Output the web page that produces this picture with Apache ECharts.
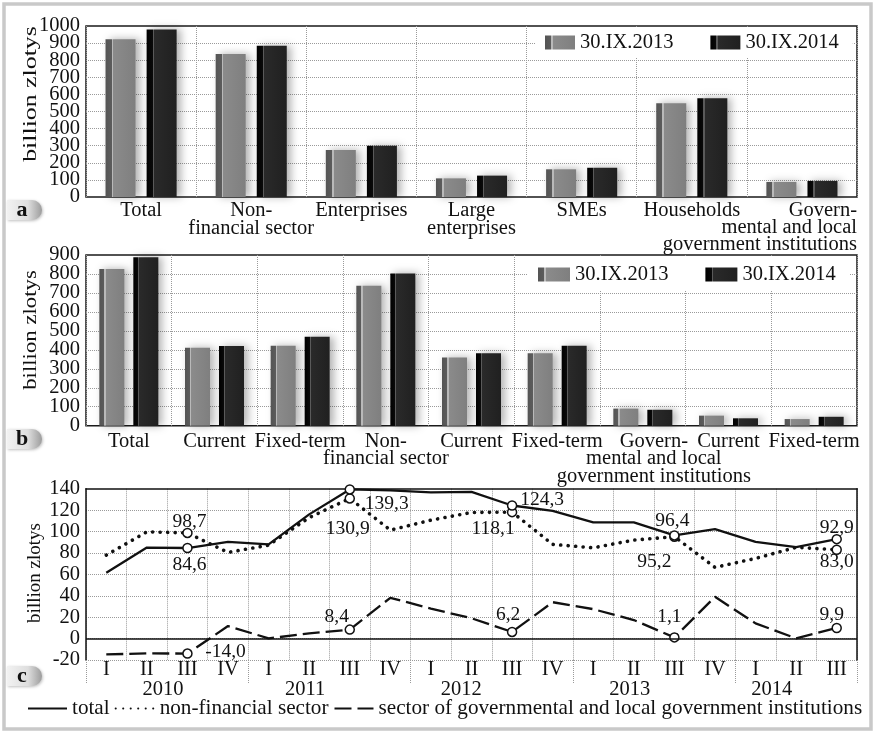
<!DOCTYPE html>
<html>
<head>
<meta charset="utf-8">
<script src="https://cdn.jsdelivr.net/npm/echarts@6/dist/echarts.min.js"></script>
<style>
  html, body { margin: 0; padding: 0; background: #fff; }
  #chart { width: 875px; height: 734px; }
</style>
</head>
<body>
<div id="chart"></div>
<script>
// ---- a: loans by sector, billion zlotys ----
const loanCategories = ['Total', 'Non-\nfinancial sector', 'Enterprises', 'Large\nenterprises', 'SMEs', 'Households', 'Govern-\nmental and local\ngovernment institutions'];
const loans2013 = [922, 836, 275, 109, 162, 548, 88];
const loans2014 = [980, 885, 300, 125, 171, 577, 94];
const loanTicks = [0, 100, 200, 300, 400, 500, 600, 700, 800, 900, 1000];

// ---- b: deposits, billion zlotys ----
const depositCategories = ['Total', 'Current', 'Fixed-term', 'Non-\nfinancial sector', 'Current', 'Fixed-term', 'Govern-\nmental and local\ngovernment institutions', 'Current', 'Fixed-term'];
const deposits2013 = [826, 411, 422, 738, 359, 382, 90, 53, 35];
const deposits2014 = [888, 420, 469, 803, 382, 422, 84, 39, 47];
const depositTicks = [0, 100, 200, 300, 400, 500, 600, 700, 800, 900];

const dateNames = ['30.IX.2013', '30.IX.2014'];

// ---- c: loan-deposit gap by quarter, billion zlotys ----
const quarters = ['I', 'II', 'III', 'IV', 'I', 'II', 'III', 'IV', 'I', 'II', 'III', 'IV', 'I', 'II', 'III', 'IV', 'I', 'II', 'III'];
const years = ['2010', '2011', '2012', '2013', '2014'];
const yearLabelAt = [1.4, 4.9, 8.75, 12.9, 16.4];
const gapTotal = [61.4, 85, 84.6, 90.4, 88, 116, 139.3, 138.5, 136.5, 137, 124.3, 119.3, 108.5, 108.5, 96.4, 102.2, 90.4, 85.4, 92.9];
const gapNonFinancial = [78, 99.7, 98.7, 80.5, 87.3, 113, 130.9, 101.3, 110.6, 117.8, 118.1, 88, 84.8, 92, 95.2, 66.5, 74.9, 85.2, 83.0];
const gapGovernment = [-14.8, -13.8, -14.0, 11.7, 0.2, 4.8, 8.4, 38.1, 28, 19, 6.2, 34, 27.5, 17.3, 1.1, 39, 14.2, 0.2, 9.9];
const lineNames = ['total', 'non-financial sector', 'sector of governmental and local government institutions'];

// quarters whose values are annotated (III quarter of each year)
const markedIdx = [2, 6, 10, 14, 18];

const SERIF = '"Liberation Serif", "Times New Roman", serif';
const INK = '#111';
const GRID_DOT = { type: 'dotted', color: '#9a9a9a', width: 1 };

// label offsets (dx, dy from the marker centre) for the annotated points
const labelOffsets = {
  total: [[2, 17], [37, 14], [30, -6], [-2, -15], [0, -11]],
  nonfin: [[2, -11], [-2, 30], [-19, 17], [-20, 25], [0, 12]],
  gov: [[38, -2], [-13, -13], [-4, -17], [-5, -21], [-5, -13]]
};

const fmtComma = v => Number(v).toFixed(1).replace('.', ',');

function lineData(values, offsets) {
  return values.map((v, i) => {
    const k = markedIdx.indexOf(i);
    if (k < 0) return v;
    return {
      value: v,
      symbol: 'circle',
      symbolSize: 9,
      label: {
        show: true, position: 'inside', offset: offsets[k],
        formatter: p => fmtComma(p.value),
        color: INK, fontFamily: SERIF, fontSize: 19.5
      }
    };
  });
}

// bar fills: dark stripe, thin highlight, body
const fill2013 = {
  type: 'linear', x: 0, y: 0, x2: 1, y2: 0,
  colorStops: [
    { offset: 0, color: '#545454' }, { offset: 0.2, color: '#5c5c5c' },
    { offset: 0.2, color: '#b9b9b9' }, { offset: 0.26, color: '#b9b9b9' },
    { offset: 0.26, color: '#8b8b8b' }, { offset: 1, color: '#7f7f7f' }
  ]
};
const fill2014 = {
  type: 'linear', x: 0, y: 0, x2: 1, y2: 0,
  colorStops: [
    { offset: 0, color: '#000' }, { offset: 0.2, color: '#0a0a0a' },
    { offset: 0.2, color: '#5a5a5a' }, { offset: 0.24, color: '#5a5a5a' },
    { offset: 0.24, color: '#2a2a2a' }, { offset: 1, color: '#202020' }
  ]
};
const barShadow = { shadowColor: 'rgba(0,0,0,0.3)', shadowBlur: 8, shadowOffsetX: 4 };

function categoryItems(cats, shiftFor) {
  return cats.map((c, i) => shiftFor[i] ? { value: c, textStyle: { padding: shiftFor[i] } } : c);
}

const catLabel = (extra) => Object.assign({
  interval: 0, hideOverlap: false, color: INK, fontFamily: SERIF, fontSize: 20.5, lineHeight: 18,
  rich: { r: { align: 'right', fontFamily: SERIF, fontSize: 20.5, lineHeight: 17, color: INK } }
}, extra);

const valueLabel = {
  color: INK, fontFamily: SERIF, fontSize: 20.5, margin: 6,
  showMinLabel: true, showMaxLabel: true, hideOverlap: false,
  formatter: v => String(v)
};

// the tick numbers are closer together than their font height, so the
// even and odd ones go on two overlaid axes sharing one scale
const evenOf = arr => arr.filter((_, i) => i % 2 === 0);
const oddOf = arr => arr.filter((_, i) => i % 2 === 1);

function barValueAxes(gridIndex, ticks) {
  const min = ticks[0], max = ticks[ticks.length - 1], interval = ticks[1] - ticks[0];
  return [
    {
      gridIndex, type: 'value', min, max, interval,
      axisLine: { show: false }, axisTick: { show: false },
      axisLabel: Object.assign({ customValues: evenOf(ticks) }, valueLabel),
      splitLine: { show: true, showMinLine: false, showMaxLine: false, lineStyle: GRID_DOT }
    },
    {
      gridIndex, type: 'value', min, max, interval, position: 'left', offset: 0,
      axisLine: { show: false }, axisTick: { show: false },
      axisLabel: Object.assign({ customValues: oddOf(ticks) }, valueLabel),
      splitLine: { show: false }
    }
  ];
}

const gridBase = { left: 86, right: 18, outerBoundsMode: 'none', containLabel: false };
const grids = [
  Object.assign({ top: 26, height: 171, show: true, borderColor: '#1a1a1a', borderWidth: 1.5, backgroundColor: 'transparent' }, gridBase),
  Object.assign({ top: 255, height: 170.7, show: true, borderColor: '#1a1a1a', borderWidth: 1.5, backgroundColor: 'transparent' }, gridBase),
  Object.assign({ top: 488.7, height: 171.3 }, gridBase)
];

const option = {
  animation: false,
  backgroundColor: '#fff',
  grid: grids,
  legend: [
    {
      data: dateNames, left: 535, top: 27, padding: [5, 14, 5, 10], backgroundColor: '#fff',
      icon: 'rect', itemWidth: 30, itemHeight: 14, itemGap: 37,
      textStyle: { color: INK, fontFamily: SERIF, fontSize: 20.5 }, z: 5
    },
    {
      data: dateNames, left: 528, top: 256, padding: [8, 14, 6, 10], backgroundColor: '#fff',
      icon: 'rect', itemWidth: 32, itemHeight: 14, itemGap: 37,
      textStyle: { color: INK, fontFamily: SERIF, fontSize: 20.5 }, z: 5
    },
    {
      data: lineNames, left: 27, top: 698, padding: 0,
      itemWidth: 39, itemHeight: 14, itemGap: 5,
      itemStyle: { opacity: 0 },
      textStyle: { color: INK, fontFamily: SERIF, fontSize: 21.2 }
    }
  ],
  xAxis: [
    {
      gridIndex: 0, type: 'category',
      data: categoryItems(loanCategories, { 6: [0, 84, 0, 0] }),
      axisLine: { show: false }, axisTick: { show: false },
      axisLabel: catLabel({
        margin: 5,
        formatter: (v, i) => i === 6 ? v.split('\n').map(s => '{r|' + s + '}').join('\n') : v
      }),
      splitLine: { show: true, lineStyle: GRID_DOT }
    },
    {
      gridIndex: 1, type: 'category',
      data: categoryItems(depositCategories, { 6: [0, 0, 0, 22] }),
      axisLine: { show: false }, axisTick: { show: false },
      axisLabel: catLabel({ margin: 7, lineHeight: 17.5 }),
      splitLine: { show: true, lineStyle: GRID_DOT }
    },
    {
      gridIndex: 2, type: 'category', data: quarters, position: 'bottom',
      axisLine: { show: false, onZero: false },
      axisTick: { show: true, interval: i => i % 4 === 0, length: 23, lineStyle: GRID_DOT },
      axisLabel: { interval: 0, hideOverlap: false, margin: 0, color: INK, fontFamily: SERIF, fontSize: 20.5, lineHeight: 20 },
      splitLine: { show: true, interval: 0, lineStyle: GRID_DOT }
    },
    {
      gridIndex: 2, type: 'value', min: -0.5, max: 18.5, position: 'bottom',
      axisLine: { show: false, onZero: false }, axisTick: { show: false }, splitLine: { show: false },
      axisLabel: {
        customValues: yearLabelAt, margin: 20, lineHeight: 20, hideOverlap: false,
        formatter: v => years[yearLabelAt.indexOf(v)] || '',
        color: INK, fontFamily: SERIF, fontSize: 20.5
      }
    },
    {
      gridIndex: 2, type: 'category', data: quarters, position: 'top',
      axisLine: { show: true, onZero: false, lineStyle: { color: INK, width: 1.5 } },
      axisTick: { show: false }, axisLabel: { show: false }, splitLine: { show: false }
    }
  ],
  yAxis: [].concat(
    barValueAxes(0, loanTicks),       // yAxis 0, 1
    barValueAxes(1, depositTicks),    // yAxis 2, 3
    [
      {
        gridIndex: 2, type: 'value', min: -20, max: 140, interval: 20,
        axisLine: { show: true, onZero: false, lineStyle: { color: INK, width: 1.5 } },
        axisTick: { show: false }, axisLabel: valueLabel,
        splitLine: { show: true, showMaxLine: false, lineStyle: GRID_DOT }
      },
      {
        gridIndex: 2, type: 'value', min: -20, max: 140, interval: 20, position: 'right',
        axisLine: { show: true, onZero: false, lineStyle: { color: INK, width: 1.5 } },
        axisTick: { show: false }, axisLabel: { show: false }, splitLine: { show: false }
      }
    ]
  ),
  series: [
    { name: dateNames[0], type: 'bar', xAxisIndex: 0, yAxisIndex: 0, data: loans2013, barWidth: 30, barGap: '37%', itemStyle: Object.assign({ color: fill2013 }, barShadow) },
    { name: dateNames[1], type: 'bar', xAxisIndex: 0, yAxisIndex: 0, data: loans2014, barWidth: 30, barGap: '37%', itemStyle: Object.assign({ color: fill2014 }, barShadow) },
    { name: dateNames[0], type: 'bar', xAxisIndex: 1, yAxisIndex: 2, data: deposits2013, barWidth: 25, barGap: '36%', itemStyle: Object.assign({ color: fill2013 }, barShadow) },
    { name: dateNames[1], type: 'bar', xAxisIndex: 1, yAxisIndex: 2, data: deposits2014, barWidth: 25, barGap: '36%', itemStyle: Object.assign({ color: fill2014 }, barShadow) },
    {
      name: lineNames[0], type: 'line', xAxisIndex: 2, yAxisIndex: 4, symbol: 'none', showSymbol: true,
      data: lineData(gapTotal, labelOffsets.total),
      lineStyle: { color: INK, width: 2.3, type: 'solid' },
      itemStyle: { color: '#fff', borderColor: INK, borderWidth: 1.5 },
      markLine: {
        silent: true, symbol: 'none', label: { show: false }, animation: false,
        lineStyle: { color: INK, type: 'solid', width: 1.5 },
        data: [{ yAxis: 0 }]
      },
      z: 4
    },
    {
      name: lineNames[1], type: 'line', xAxisIndex: 2, yAxisIndex: 4, symbol: 'none', showSymbol: true,
      data: lineData(gapNonFinancial, labelOffsets.nonfin),
      lineStyle: { color: INK, width: 3.6, type: [0.1, 7.4], cap: 'round' },
      itemStyle: { color: '#fff', borderColor: INK, borderWidth: 1.5 },
      z: 3
    },
    {
      name: lineNames[2], type: 'line', xAxisIndex: 2, yAxisIndex: 4, symbol: 'none', showSymbol: true,
      data: lineData(gapGovernment, labelOffsets.gov),
      lineStyle: { color: INK, width: 2.3, type: [17, 6] },
      itemStyle: { color: '#fff', borderColor: INK, borderWidth: 1.5 },
      z: 3
    }
  ],
  graphic: [
    // outer frame
    { type: 'rect', shape: { x: 4, y: 4, width: 867, height: 725 }, style: { fill: 'none', stroke: '#c9c9c9', lineWidth: 3.5 }, silent: true, z: 0 },
    // axis titles
    { type: 'text', x: 31, y: 94, rotation: Math.PI / 2, scaleX: 1.36, style: { text: 'billion zlotys', font: '19px ' + SERIF, fill: INK, align: 'center', verticalAlign: 'middle', textAlign: 'center', textVerticalAlign: 'middle' } },
    { type: 'text', x: 31, y: 330, rotation: Math.PI / 2, scaleX: 1.2, style: { text: 'billion zlotys', font: '19px ' + SERIF, fill: INK, align: 'center', verticalAlign: 'middle', textAlign: 'center', textVerticalAlign: 'middle' } },
    { type: 'text', x: 35, y: 573, rotation: Math.PI / 2, scaleX: 1.0, style: { text: 'billion zlotys', font: '19px ' + SERIF, fill: INK, align: 'center', verticalAlign: 'middle', textAlign: 'center', textVerticalAlign: 'middle' } }
  ].concat([['a', 200], ['b', 429], ['c', 666]].flatMap(([t, y]) => [
    {
      type: 'rect', shape: { x: 7, y: y, width: 35, height: 20, r: [0, 10, 10, 0] },
      style: {
        fill: { type: 'linear', x: 0, y: 0, x2: 1, y2: 0, colorStops: [
          { offset: 0, color: '#f2f2f2' }, { offset: 0.6, color: '#dedede' }, { offset: 1, color: '#9c9c9c' }] },
        shadowColor: 'rgba(0,0,0,0.25)', shadowBlur: 3, shadowOffsetX: 1, shadowOffsetY: 1
      },
      silent: true
    },
    { type: 'text', x: 22, y: y + 10, style: { text: t, font: 'bold 22px ' + SERIF, fill: INK, align: 'center', verticalAlign: 'middle', textAlign: 'center', textVerticalAlign: 'middle' }, silent: true }
  ]))
};

const chart = echarts.init(document.getElementById('chart'), null, { renderer: 'canvas' });
chart.setOption(option);
</script>
</body>
</html>
